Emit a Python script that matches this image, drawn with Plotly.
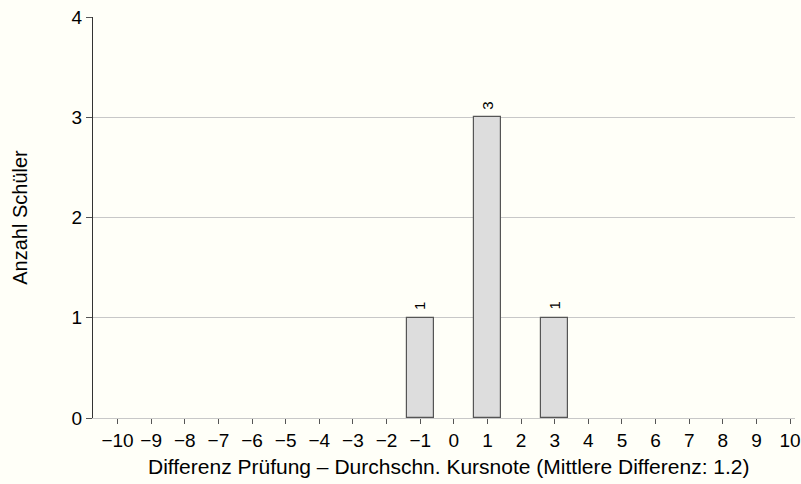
import plotly.graph_objects as go

# Distribution of exam-minus-course-grade differences
differences = [-1, 1, 3]
student_counts = [1, 3, 1]
tick_values = list(range(-10, 11))
mean_difference = 1.2

font_family = "Liberation Sans, Arial, sans-serif"

fig = go.Figure(
    go.Bar(
        x=differences,
        y=student_counts,
        width=0.8,
        marker=dict(color="#dddddd", line=dict(color="#555555", width=1.2)),
        showlegend=False,
    )
)

# Count labels, rotated, just above each bar
for x, c in zip(differences, student_counts):
    fig.add_annotation(
        x=x, y=c, text=str(c), showarrow=False, textangle=-90,
        yanchor="bottom", yshift=6,
        font=dict(family=font_family, size=15, color="#000000"),
    )

# X axis title, centred under the full panel
fig.add_annotation(
    xref="paper", yref="paper", x=0.507, y=-0.122,
    xanchor="center", yanchor="middle", showarrow=False,
    text=f"Differenz Prüfung – Durchschn. Kursnote (Mittlere Differenz: {mean_difference})",
    font=dict(family=font_family, size=21, color="#000000"),
)

fig.update_layout(
    width=801,
    height=484,
    margin=dict(l=93, r=0, t=17, b=66),
    paper_bgcolor="#fffff8",
    plot_bgcolor="#fffff8",
    font=dict(family=font_family, color="#000000"),
    bargap=0,
)

fig.update_xaxes(
    range=[-10.73, 10.145],
    tickmode="array",
    tickvals=tick_values,
    ticks="outside",
    ticklen=5,
    tickcolor="#555555",
    tickfont=dict(size=19),
    ticklabeloverflow="allow",
    showgrid=False,
    zeroline=False,
    showline=True,
    linecolor="#c8c8c8",
    linewidth=1,
)

fig.update_yaxes(
    range=[0, 4],
    tickmode="array",
    tickvals=[0, 1, 2, 3, 4],
    ticks="outside",
    ticklen=6,
    tickcolor="#555555",
    tickfont=dict(size=19),
    showgrid=True,
    gridcolor="#c8c8c8",
    gridwidth=1,
    zeroline=False,
    showline=True,
    linecolor="#333333",
    linewidth=1,
    title=dict(text="Anzahl Schüler", font=dict(size=20), standoff=38),
)

fig.write_html("out.html")
